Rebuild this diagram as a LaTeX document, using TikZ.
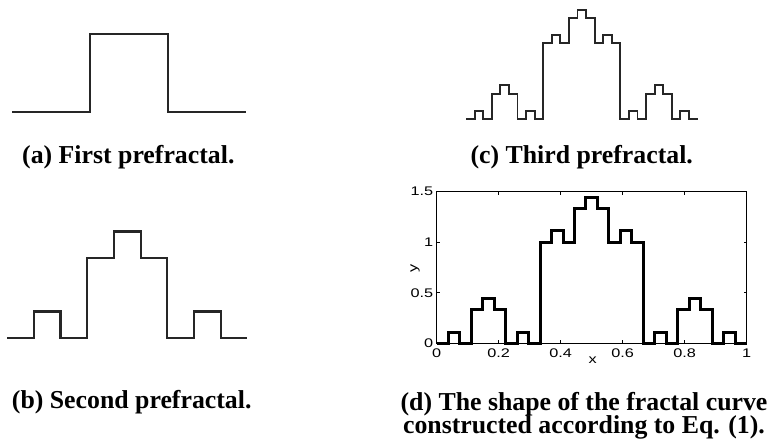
\documentclass[tikz,border=0pt]{standalone}
\usepackage{fontspec}
\setmainfont{Liberation Serif}
\newfontfamily\axfont{Liberation Sans}
\begin{document}
\begin{tikzpicture}[x=1pt,y=-1pt,
  capt/.style={font=\fontsize{25.8}{22}\selectfont\bfseries, inner sep=0pt, anchor=base},
  prefrac/.style={line width=2.3pt, draw=black!85, line join=miter},
  curve/.style={line width=3pt, draw=black, line join=miter},
  frame/.style={line width=0.9pt, draw=black},
  ticklab/.style={font=\axfont\fontsize{12.5}{13}\selectfont, inner sep=0pt}
]
\fill[white] (0,0) rectangle (770,446);
\useasboundingbox (0,0) rectangle (770,446);

% (a) first prefractal
\begin{scope}[shift={(12pt,-112.3pt)}, x=26pt, y=26pt]
  \draw[prefrac] (0,0) \foreach \h [count=\i] in {0,0,0,3,3,3,0,0,0} { |- (\i,\h) };
\end{scope}
\node[capt] (capa) at (128.3,163.5) {(a) First prefractal.};

% (b) second prefractal
\begin{scope}[shift={(7.3pt,-338.3pt)}, x=26.67pt, y=26.67pt]
  \draw[prefrac] (0,0) \foreach \h [count=\i] in {0,1,0,3,4,3,0,1,0} { |- (\i,\h) };
\end{scope}
\node[capt] (capb) at (131.7,408.5) {(b) Second prefractal.};

% (c) third prefractal
\begin{scope}[shift={(466pt,-119pt)}, x=8.574pt, y=8.4pt]
  \draw[prefrac, line width=1.9pt] (0,0) \foreach \h [count=\i] in {0,1,0,3,4,3,0,1,0,9,10,9,12,13,12,9,10,9,0,1,0,3,4,3,0,1,0} { |- (\i,\h) };
\end{scope}
\node[capt] (capc) at (581.7,163.5) {(c) Third prefractal.};

% (d) plot
\begin{scope}[shift={(436.7pt,-343.3pt)}, x=310pt, y=101.1pt]
  \draw[frame] (0,0) rectangle (1,1.5);
  \foreach \t in {0,0.2,0.4,0.6,0.8,1} {
    \draw[frame] (\t,0) -- ++(0pt,3pt);
    \draw[frame] (\t,1.5) -- ++(0pt,-3pt);
    \node[ticklab] at ([yshift=-10pt]\t,0) {\scalebox{1.3}[1]{\t}};
  }
  \foreach \v in {0,0.5,1,1.5} {
    \draw[frame] (0,\v) -- ++(3pt,0pt);
    \draw[frame] (1,\v) -- ++(-3pt,0pt);
    \node[ticklab, anchor=east] at ([xshift=-3.4pt]0,\v) {\scalebox{1.3}[1]{\v}};
  }
  \draw[curve] (0,0) \foreach \h [count=\i] in {0,1,0,3,4,3,0,1,0,9,10,9,12,13,12,9,10,9,0,1,0,3,4,3,0,1,0} { |- (\i/27,\h/9) };
\end{scope}
\node[ticklab] (xlab) at (592.7,360) {\scalebox{1.3}[1]{x}};
\node[ticklab, rotate=90] (ylab) at (415,268.3) {\scalebox{1.3}[1]{y}};
\node[capt] (capd1) at (584,410) {(d) The shape of the fractal curve};
\node[capt] (capd2) at (584,433.5) {constructed according to Eq. (1).};
\end{tikzpicture}
\end{document}
